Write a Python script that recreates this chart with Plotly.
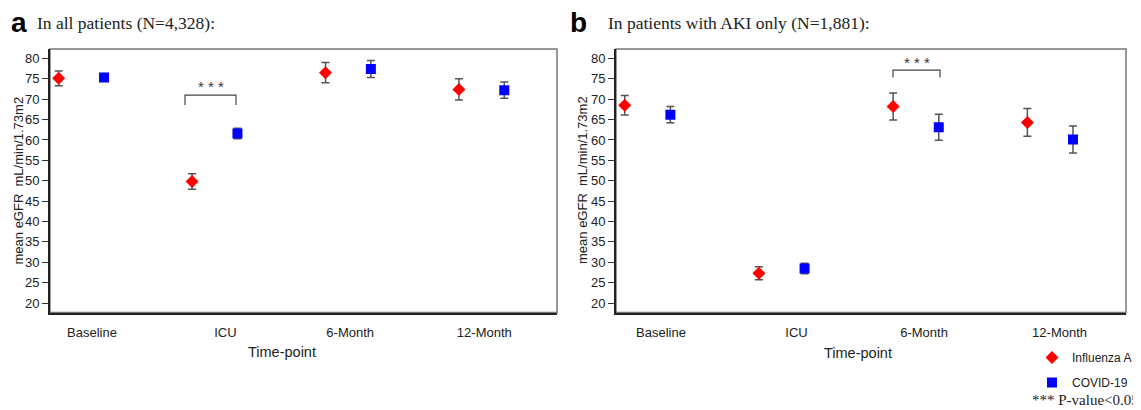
import plotly.graph_objects as go

# ---------------- data ----------------
timepoints = ["Baseline", "ICU", "6-Month", "12-Month"]

flu_all = [75.1, 49.8, 76.5, 72.4]
flu_all_err = [1.8, 1.9, 2.5, 2.6]
cov_all = [75.3, 61.6, 77.4, 72.2]
cov_all_err = [0.9, 1.3, 2.1, 2.0]

flu_aki = [68.5, 27.3, 68.2, 64.3]
flu_aki_err = [2.4, 1.6, 3.3, 3.4]
cov_aki = [66.2, 28.5, 63.1, 60.1]
cov_aki_err = [2.0, 1.3, 3.2, 3.3]

series_names = ["Influenza A", "COVID-19"]
y_ticks = list(range(20, 85, 5))

# ---------------- style ----------------
OX, OY = 8, 8            # page body margin of the html page
W, H = 1141 - OX, 410 - OY
OFF = 0.17
RED = "#ff0000"
BLUE = "#0000ff"
ERRC = "#555555"
XR = [-0.235, 3.565]
YR = [17.7, 82.3]

def px(x):
    return (x - OX) / W

def py(y):
    return 1 - (y - OY) / H

fig = go.Figure()

panels = [
    dict(xa="x", ya="y", flu=flu_all, fe=flu_all_err, cov=cov_all, ce=cov_all_err, show=True),
    dict(xa="x2", ya="y2", flu=flu_aki, fe=flu_aki_err, cov=cov_aki, ce=cov_aki_err, show=False),
]
for p in panels:
    xs = list(range(len(timepoints)))
    fig.add_trace(go.Scatter(
        x=[i - OFF for i in xs], y=p["flu"], mode="markers", name=series_names[0],
        xaxis=p["xa"], yaxis=p["ya"], legendgroup="flu", showlegend=p["show"],
        marker=dict(symbol="diamond", size=10, color=RED, line=dict(width=0)),
        error_y=dict(type="data", array=p["fe"], color=ERRC, thickness=1.5, width=4),
    ))
    fig.add_trace(go.Scatter(
        x=[i + OFF for i in xs], y=p["cov"], mode="markers", name=series_names[1],
        xaxis=p["xa"], yaxis=p["ya"], legendgroup="cov", showlegend=p["show"],
        marker=dict(symbol="square", size=10, color=BLUE, line=dict(width=0)),
        error_y=dict(type="data", array=p["ce"], color=ERRC, thickness=1.5, width=4),
    ))

dom_a = [px(50), px(557)]
dom_b = [px(616), px(1126)]
ydom = [py(312.5), py(49)]

tick_off_a = [0.08, 0.08, 0.015, 0.02]
tick_off_b = [0.10, 0.11, 0.06, 0.07]

def xaxis(domain, anchor, offs):
    return dict(
        domain=domain, anchor=anchor, range=XR, showgrid=False, zeroline=False,
        tickvals=[i + o for i, o in enumerate(offs)], ticktext=timepoints,
        ticks="outside", ticklen=7, tickcolor="rgba(0,0,0,0)",
        showline=True, linecolor="#222222", linewidth=2, mirror=False,
        tickfont=dict(family="Arial", size=13, color="#222222"),
    )

def yaxis(anchor):
    return dict(
        domain=ydom, anchor=anchor, range=YR, showgrid=False, zeroline=False,
        tickvals=y_ticks, ticks="outside", ticklen=6, tickcolor="#333333", tickwidth=1,
        showline=True, linecolor="#222222", linewidth=2, mirror=False,
        tickfont=dict(family="Arial", size=13, color="#222222"),
    )

fig.update_layout(
    width=W, height=H, margin=dict(l=0, r=0, t=0, b=0),
    paper_bgcolor="white", plot_bgcolor="white",
    xaxis=xaxis(dom_a, "y", tick_off_a), yaxis=yaxis("x"),
    xaxis2=xaxis(dom_b, "y2", tick_off_b), yaxis2=yaxis("x2"),
    showlegend=True,
    legend=dict(x=px(1137), y=py(343), xanchor="right", yanchor="top",
                bgcolor="rgba(0,0,0,0)", borderwidth=0, tracegroupgap=6,
                font=dict(family="Liberation Sans", size=12, color="#222222")),
)

# grey box around each panel
for xr, yr in [("x domain", "y domain"), ("x2 domain", "y2 domain")]:
    fig.add_shape(type="rect", xref=xr, yref=yr, x0=0, x1=1, y0=0, y1=1,
                  line=dict(color="#777777", width=1.5), layer="below")

# significance brackets
def bracket(xa, ya, grp, x0, x1, ytop, ybot, ystar):
    fig.add_shape(type="path", xref=xa, yref=ya,
                  path=f"M {grp + x0} {ybot} L {grp + x0} {ytop} L {grp + x1} {ytop} L {grp + x1} {ybot}",
                  line=dict(color="#444444", width=1.2))
    fig.add_annotation(x=grp + (x0 + x1) / 2, y=ystar, xref=xa, yref=ya, text="* * *",
                       showarrow=False, font=dict(family="Arial", size=15, color="#333333"))

bracket("x", "y", 1, -0.223, 0.159, 71.0, 68.6, 73.2)
bracket("x2", "y2", 2, -0.171, 0.179, 77.1, 75.3, 79.0)

# titles
ann = [
    dict(x=px(9), y=py(23), text="<b>a</b>", font=dict(family="Arial", size=28, color="black"), xanchor="left"),
    dict(x=px(35), y=py(23), text="In all patients (N=4,328):", font=dict(family="Liberation Serif", size=17.5, color="#222222"), xanchor="left"),
    dict(x=px(568), y=py(23), text="<b>b</b>", font=dict(family="Arial", size=28, color="black"), xanchor="left"),
    dict(x=px(606), y=py(23), text="In patients with AKI only (N=1,881):", font=dict(family="Liberation Serif", size=17.5, color="#222222"), xanchor="left"),
    dict(x=px(17.5), y=py(181), text="mean eGFR  mL/min/1.73m2", textangle=-90, font=dict(family="Arial", size=13, color="#222222")),
    dict(x=px(582), y=py(180), text="mean eGFR  mL/min/1.73m2", textangle=-90, font=dict(family="Arial", size=13, color="#222222")),
    dict(x=px(282), y=py(352), text="Time-point", font=dict(family="Arial", size=14.5, color="#222222")),
    dict(x=px(858), y=py(353), text="Time-point", font=dict(family="Arial", size=14.5, color="#222222")),
    dict(x=px(1030), y=py(400), text="*** P-value<0.05", font=dict(family="Liberation Serif", size=15, color="#222222"), xanchor="left"),
]
for a in ann:
    a.update(xref="paper", yref="paper", showarrow=False)
    a.setdefault("xanchor", "center")
    a.setdefault("yanchor", "middle")
    fig.add_annotation(**a)

fig.write_html("out.html")
